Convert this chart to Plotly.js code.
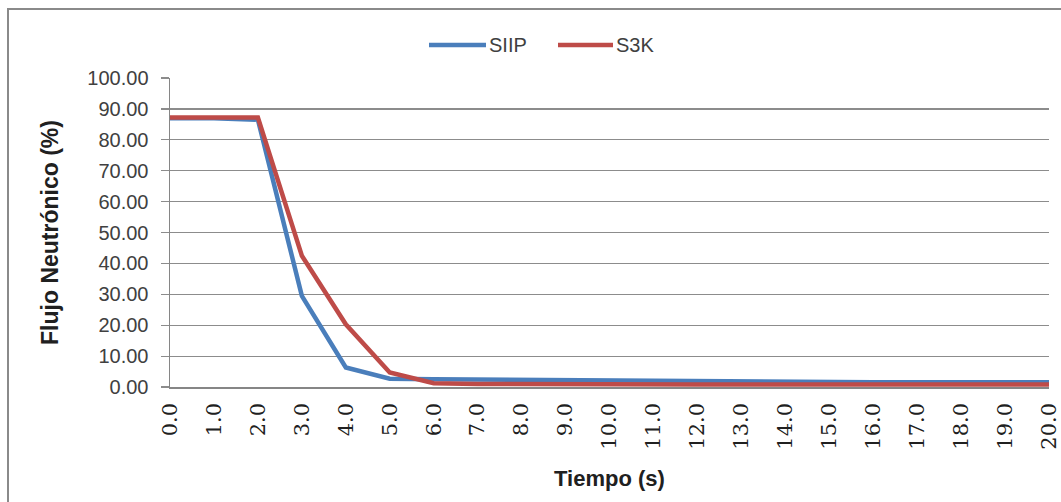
<!DOCTYPE html>
<html>
<head>
<meta charset="utf-8">
<script src="https://cdn.plot.ly/plotly-3.0.1.min.js"></script>
<style>
  html, body { margin: 0; padding: 0; background: #ffffff; overflow: hidden; }
  #wrap { position: relative; width: 1061px; height: 502px; }
  #chart { width: 1061px; height: 502px; }
  #frame { position: absolute; left: 7px; top: 8px; width: 2000px; height: 2000px;
           border: 2px solid #8a8a8a; pointer-events: none; box-sizing: border-box; }
</style>
</head>
<body>
<div id="wrap">
  <div id="chart"></div>
  <div id="frame"></div>
</div>
<script>
// Time (s)
const tiempo = [0, 1, 2, 3, 4, 5, 6, 7, 8, 9, 10, 11, 12, 13, 14, 15, 16, 17, 18, 19, 20];
// Neutron flux (%)
const siip = [87.0, 87.0, 86.5, 29.5, 6.3, 2.7, 2.5, 2.4, 2.2, 2.1, 2.1, 2.0, 1.6, 1.5, 1.5, 1.5, 1.5, 1.5, 1.5, 1.5, 1.5];
const s3k  = [87.2, 87.2, 87.2, 42.5, 20.3, 4.7, 1.2, 1.0, 0.9, 0.9, 0.9, 0.8, 0.8, 0.8, 0.8, 0.8, 0.8, 0.8, 0.8, 0.8, 0.8];
const seriesNames = ["SIIP", "S3K"];
const seriesColors = ["#4A7EBB", "#BE4B48"];
const xTickLabels = tiempo.map(v => v.toFixed(1));

const traces = [
  { x: tiempo, y: siip, name: seriesNames[0], type: "scatter", mode: "lines",
    line: { color: seriesColors[0], width: 4.5 }, showlegend: false },
  { x: tiempo, y: s3k, name: seriesNames[1], type: "scatter", mode: "lines",
    line: { color: seriesColors[1], width: 4.5 }, showlegend: false }
];

// custom legend (long line swatches like the original)
const plotL = 170, plotR = 1049, plotT = 78, plotB = 387;
const px = v => (v - plotL) / (plotR - plotL);
const py = v => (plotB - v) / (plotB - plotT);
const legendY = 45;
const legendItems = [
  { x0: 429, x1: 486, tx: 487 },
  { x0: 558, x1: 613, tx: 614 }
];
const shapes = legendItems.map((it, i) => ({
  type: "line", xref: "paper", yref: "paper",
  x0: px(it.x0), x1: px(it.x1), y0: py(legendY), y1: py(legendY),
  line: { color: seriesColors[i], width: 4.5 }
}));
const annotations = legendItems.map((it, i) => ({
  xref: "paper", yref: "paper", x: px(it.tx), y: py(legendY),
  xanchor: "left", yanchor: "middle", showarrow: false,
  text: seriesNames[i],
  font: { family: "Liberation Sans, Arial, sans-serif", size: 20, color: "#404040" }
}));

const layout = {
  width: 1061, height: 502,
  margin: { l: plotL, r: 1061 - plotR, t: plotT, b: 502 - plotB },
  paper_bgcolor: "#ffffff", plot_bgcolor: "#ffffff",
  showlegend: false,
  xaxis: {
    range: [0, 20],
    tickvals: tiempo, ticktext: xTickLabels,
    tickangle: -90,
    ticklabelstandoff: 6,
    tickfont: { family: "DejaVu Serif, serif", size: 21, color: "#202020" },
    showgrid: false, zeroline: false,
    showline: true, linecolor: "#868686", linewidth: 1.5,
    ticks: "", ticklen: 0,
    title: { text: "<b>Tiempo (s)</b>", standoff: 22,
             font: { family: "Liberation Sans, Arial, sans-serif", size: 22, color: "#202020" } }
  },
  yaxis: {
    range: [0, 100], dtick: 10, tickformat: ".2f",
    ticklabelstandoff: 8,
    tickfont: { family: "Liberation Sans, Arial, sans-serif", size: 20, color: "#404040" },
    showgrid: true, gridcolor: "#8c8c8c", gridwidth: 1.2,
    zeroline: false,
    showline: true, linecolor: "#868686", linewidth: 1.5,
    ticks: "outside", ticklen: 8, tickcolor: "#8c8c8c", tickwidth: 1.2,
    title: { text: "<b>Flujo Neutrónico (%)</b>", standoff: 22,
             font: { family: "Liberation Sans, Arial, sans-serif", size: 23, color: "#202020" } }
  },
  shapes: shapes,
  annotations: annotations
};

Plotly.newPlot("chart", traces, layout, { displayModeBar: false, staticPlot: true });
</script>
</body>
</html>
